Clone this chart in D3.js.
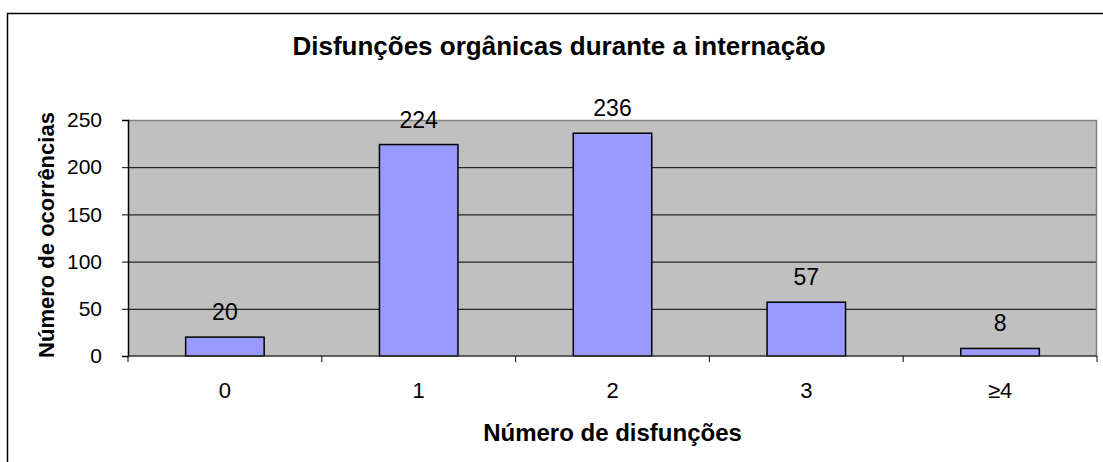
<!DOCTYPE html>
<html>
<head>
<meta charset="utf-8">
<script src="https://cdn.jsdelivr.net/npm/d3@7"></script>
<style>
  body { margin: 0; background: #fff; }
  text { font-family: "Liberation Sans", Arial, sans-serif; fill: #000; }
</style>
</head>
<body>
<div id="chart"></div>
<script>
// dados do gráfico
const categorias = ["0", "1", "2", "3", "\u22654"];
const ocorrencias = [20, 224, 236, 57, 8];
const yTicks = [0, 50, 100, 150, 200, 250];

const width = 1103, height = 462;
const margin = {top: 120, right: 6, bottom: 106, left: 128};

const svg = d3.select("#chart").append("svg")
    .attr("width", width)
    .attr("height", height);

// borda externa
svg.append("rect")
    .attr("x", 7.5).attr("y", 13.5)
    .attr("width", 1120).attr("height", 470)
    .attr("fill", "#fff")
    .attr("stroke", "#000")
    .attr("stroke-width", 1.5);

const x = d3.scaleBand()
    .domain(categorias)
    .range([margin.left, width - margin.right])
    .paddingInner(0.595)
    .paddingOuter(0.2975);

const y = d3.scaleLinear()
    .domain([0, 250])
    .range([height - margin.bottom, margin.top]);

const x0 = margin.left, x1 = width - margin.right;

// área de plotagem
svg.append("rect")
    .attr("x", x0).attr("y", y(250))
    .attr("width", x1 - x0).attr("height", y(0) - y(250))
    .attr("fill", "#c0c0c0");

// linhas de grade
svg.append("g").selectAll("line")
    .data(yTicks.filter(d => d > 0 && d < 250))
    .join("line")
    .attr("x1", x0).attr("x2", x1)
    .attr("y1", d => y(d) + 0.5).attr("y2", d => y(d) + 0.5)
    .attr("stroke", "#000")
    .attr("stroke-width", 1);

// borda superior e direita
svg.append("path")
    .attr("d", `M${x0},${y(250) + 0.5}H${x1 - 0.5}V${y(0)}`)
    .attr("fill", "none")
    .attr("stroke", "#808080")
    .attr("stroke-width", 1.5);

// barras
svg.append("g").selectAll("rect")
    .data(ocorrencias)
    .join("rect")
    .attr("x", (d, i) => x(categorias[i]))
    .attr("y", d => y(d))
    .attr("width", x.bandwidth())
    .attr("height", d => y(0) - y(d))
    .attr("fill", "#9999ff")
    .attr("stroke", "#000")
    .attr("stroke-width", 1.5);

// rótulos de valor
svg.append("g").selectAll("text")
    .data(ocorrencias)
    .join("text")
    .attr("x", (d, i) => x(categorias[i]) + x.bandwidth() / 2)
    .attr("y", d => y(d) - 17)
    .attr("text-anchor", "middle")
    .style("font-size", "23px")
    .text(d => d);

// eixo Y
const yAxis = svg.append("g")
    .attr("transform", `translate(${x0},0)`)
    .call(d3.axisLeft(y).tickValues(yTicks).tickSize(6).tickPadding(20));
yAxis.select(".domain").attr("stroke", "#000").attr("stroke-width", 1.5);
yAxis.selectAll(".tick line").attr("stroke", "#000");
yAxis.selectAll(".tick text").style("font-size", "21px").attr("fill", "#000");

// eixo X
const bounds = d3.range(categorias.length + 1).map(i => x0 + i * (x1 - x0) / categorias.length);
svg.append("line")
    .attr("x1", x0).attr("x2", x1)
    .attr("y1", y(0)).attr("y2", y(0))
    .attr("stroke", "#333")
    .attr("stroke-width", 1.5);
svg.append("g").selectAll("line")
    .data(bounds)
    .join("line")
    .attr("x1", d => d).attr("x2", d => d)
    .attr("y1", y(0)).attr("y2", y(0) + 6)
    .attr("stroke", "#000");
svg.append("g").selectAll("text")
    .data(categorias)
    .join("text")
    .attr("x", d => x(d) + x.bandwidth() / 2)
    .attr("y", y(0) + 42)
    .attr("text-anchor", "middle")
    .style("font-size", "22px")
    .text(d => d);

// títulos
svg.append("text")
    .attr("x", 559).attr("y", 55)
    .attr("text-anchor", "middle")
    .style("font-size", "26px")
    .style("font-weight", "bold")
    .text("Disfunções orgânicas durante a internação");

svg.append("text")
    .attr("x", (x0 + x1) / 2).attr("y", 441)
    .attr("text-anchor", "middle")
    .style("font-size", "24px")
    .style("font-weight", "bold")
    .text("Número de disfunções");

svg.append("text")
    .attr("transform", `translate(54,${(y(0) + y(250)) / 2 - 3}) rotate(-90)`)
    .attr("text-anchor", "middle")
    .style("font-size", "22px")
    .style("font-weight", "bold")
    .text("Número de ocorrências");
</script>
</body>
</html>
